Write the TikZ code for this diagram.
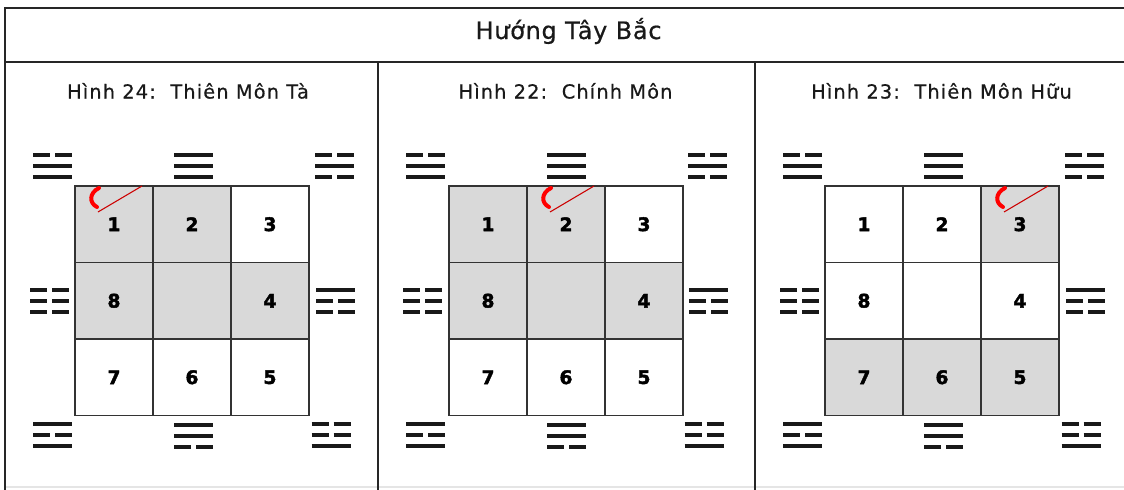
\documentclass[tikz,border=0pt]{standalone}
\usepackage{fontspec}
\setmainfont{DejaVu Sans}
\newfontfamily\ttlfont[LetterSpace=3,FakeBold=0.6]{DejaVu Sans}
\newfontfamily\hdfont[LetterSpace=6,FakeBold=0.6]{DejaVu Sans}
\newfontfamily\numfont[FakeBold=2.2]{DejaVu Sans}
\newcommand\tline[3]{%
  \ifnum#3=1
    \draw[tl] ({#1-19.5},{#2}) -- ({#1+19.5},{#2});
  \else
    \draw[tl] ({#1-19.5},{#2}) -- ({#1-2.5},{#2});
    \draw[tl] ({#1+2.5},{#2}) -- ({#1+19.5},{#2});
  \fi}
\newcommand\trig[5]{\tline{#1}{#2-11}{#3}\tline{#1}{#2}{#4}\tline{#1}{#2+11}{#5}}
\newcommand\trigset[1]{%
  \trig{52.5+#1}{166}{0}{1}{1}
  \trig{193.5+#1}{166}{1}{1}{1}
  \trig{334.5+#1}{166}{0}{1}{0}
  \trig{49.5+#1}{301}{0}{0}{0}
  \trig{335.5+#1}{301}{1}{0}{0}
  \trig{52.5+#1}{435}{1}{0}{1}
  \trig{193.5+#1}{436}{1}{1}{0}
  \trig{331+#1}{435}{0}{0}{1}}
\begin{document}
\begin{tikzpicture}[x=0.75pt,y=-0.75pt,
  frame/.style={draw=black!85,line width=1.5pt},
  faint/.style={draw=black!10,line width=0.8pt},
  cell/.style={draw=black!80,line width=1.4pt,minimum width=58.5pt,minimum height=57.4pt,inner sep=0pt,
    font=\numfont\bfseries\fontsize{14}{14}\selectfont,text=black},
  shaded/.style={cell,fill=black!15},
  plain/.style={cell,fill=white},
  tl/.style={line width=3pt,black!90},
  ttl/.style={anchor=base,text=black!90,font=\ttlfont\fontsize{18}{20}\selectfont},
  hd/.style={anchor=base,text=black!90,font=\hdfont\fontsize{14.5}{16}\selectfont},
  doorline/.style={draw=red!80!black,line width=0.8pt},
  doorarc/.style={draw=red,line width=3pt,line cap=round}]
\useasboundingbox (0,0) rectangle (1124,489);
\clip (0,0) rectangle (1124,489);
\fill[white] (0,0) rectangle (1124,489);
% frame
\draw[faint] (5,487) -- (1130,487);
\draw[frame] (5,495) -- (5,8) -- (1130,8);
\draw[frame] (5,62) -- (1130,62);
\draw[frame] (378,62) -- (378,495);
\draw[frame] (755,62) -- (755,495);
% titles
\node[ttl] (title) at (568.5,39) {Hướng Tây Bắc};
\node[hd] (h1) at (188,98.5) {Hình 24:\ \ Thiên Môn Tà};
\node[hd] (h2) at (565.5,98.5) {Hình 22:\ \ Chính Môn};
\node[hd] (h3) at (941.5,98.5) {Hình 23:\ \ Thiên Môn Hữu};
% panel 1
\node[shaded] (a1) at (114,224.25) {1};
\node[shaded] (a2) at (192,224.25) {2};
\node[plain]  (a3) at (270,224.25) {3};
\node[shaded] (a8) at (114,300.75) {8};
\node[shaded] (a0) at (192,300.75) {};
\node[shaded] (a4) at (270,300.75) {4};
\node[plain]  (a7) at (114,377.25) {7};
\node[plain]  (a6) at (192,377.25) {6};
\node[plain]  (a5) at (270,377.25) {5};
% panel 2
\node[shaded] (b1) at (488,224.25) {1};
\node[shaded] (b2) at (566,224.25) {2};
\node[plain]  (b3) at (644,224.25) {3};
\node[shaded] (b8) at (488,300.75) {8};
\node[shaded] (b0) at (566,300.75) {};
\node[shaded] (b4) at (644,300.75) {4};
\node[plain]  (b7) at (488,377.25) {7};
\node[plain]  (b6) at (566,377.25) {6};
\node[plain]  (b5) at (644,377.25) {5};
% panel 3
\node[plain]  (c1) at (864,224.25) {1};
\node[plain]  (c2) at (942,224.25) {2};
\node[shaded] (c3) at (1020,224.25) {3};
\node[plain]  (c8) at (864,300.75) {8};
\node[plain]  (c0) at (942,300.75) {};
\node[plain]  (c4) at (1020,300.75) {4};
\node[shaded] (c7) at (864,377.25) {7};
\node[shaded] (c6) at (942,377.25) {6};
\node[shaded] (c5) at (1020,377.25) {5};
% trigrams
\trigset{0}
\trigset{373}
\trigset{750}
% doors
\coordinate (da1) at (142,186);  \coordinate (da2) at (98,212);
\coordinate (db1) at (594,186);  \coordinate (db2) at (550,212);
\coordinate (dc1) at (1048,186); \coordinate (dc2) at (1004,212);
\draw[doorline] (da1) -- (da2);
\draw[doorline] (db1) -- (db2);
\draw[doorline] (dc1) -- (dc2);
\draw[doorarc] (99,188) .. controls (89,193) and (89,203) .. (97,207);
\draw[doorarc] (551,188) .. controls (541,193) and (541,203) .. (549,207);
\draw[doorarc] (1005,188) .. controls (995,193) and (995,203) .. (1003,207);
\end{tikzpicture}
\end{document}
